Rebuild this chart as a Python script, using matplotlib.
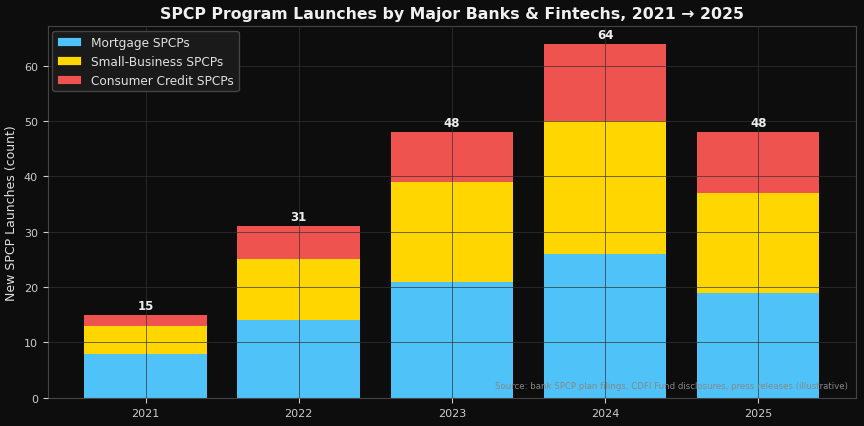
import matplotlib
matplotlib.use("Agg")
from matplotlib import pyplot as plt
import numpy as np

# data
years = ["2021", "2022", "2023", "2024", "2025"]
mortgage = [8, 14, 21, 26, 19]
small_business = [5, 11, 18, 24, 18]
consumer_credit = [2, 6, 9, 14, 11]

BG = "#0d0d0d"
colors = ["#4FC3F7", "#FFD600", "#EF5350"]

fig, ax = plt.subplots(figsize=(8.64, 4.27), dpi=100)
fig.patch.set_facecolor(BG)
ax.set_facecolor(BG)

x = np.arange(len(years))
m = np.array(mortgage)
sb = np.array(small_business)
cc = np.array(consumer_credit)

ax.bar(x, m, 0.8, color=colors[0], linewidth=0, label="Mortgage SPCPs")
ax.bar(x, sb, 0.8, bottom=m, color=colors[1], linewidth=0, label="Small-Business SPCPs")
ax.bar(x, cc, 0.8, bottom=m + sb, color=colors[2], linewidth=0, label="Consumer Credit SPCPs")

totals = m + sb + cc
for xi, t in zip(x, totals):
    ax.text(xi, t + 0.5, str(t), ha="center", va="bottom", color="#eeeeee",
            fontsize=8.5, fontweight="bold")

ax.set_ylim(0, totals.max() * 1.05)
ax.set_xticks(x)
ax.set_xticklabels(years)

ax.grid(True, color="#333333", alpha=0.7, linewidth=0.7)
ax.set_axisbelow(False)

ax.tick_params(colors="#cccccc", labelsize=8)
for s in ax.spines.values():
    s.set_color("#444444")

ax.set_ylabel("New SPCP Launches (count)", color="#e0e0e0", fontsize=9)
ax.set_title("SPCP Program Launches by Major Banks & Fintechs, 2021 → 2025",
             color="#f0f0f0", fontsize=11.3, fontweight="bold", pad=6)

leg = ax.legend(loc="upper left", facecolor="#1a1a1a", edgecolor="#444444",
                fontsize=8.7, framealpha=1, borderaxespad=0.4)
for txt in leg.get_texts():
    txt.set_color("#e0e0e0")
for h in leg.legend_handles:
    h.set_edgecolor(BG)
    h.set_linewidth(0.5)

ax.text(0.99, 0.02, "Source: bank SPCP plan filings, CDFI Fund disclosures, press releases (illustrative)",
        transform=ax.transAxes, ha="right", va="bottom", color="#888888", fontsize=6.2)

plt.subplots_adjust(left=0.055, right=0.991, top=0.937, bottom=0.066)
plt.savefig("out.png", dpi=100, facecolor=BG)
